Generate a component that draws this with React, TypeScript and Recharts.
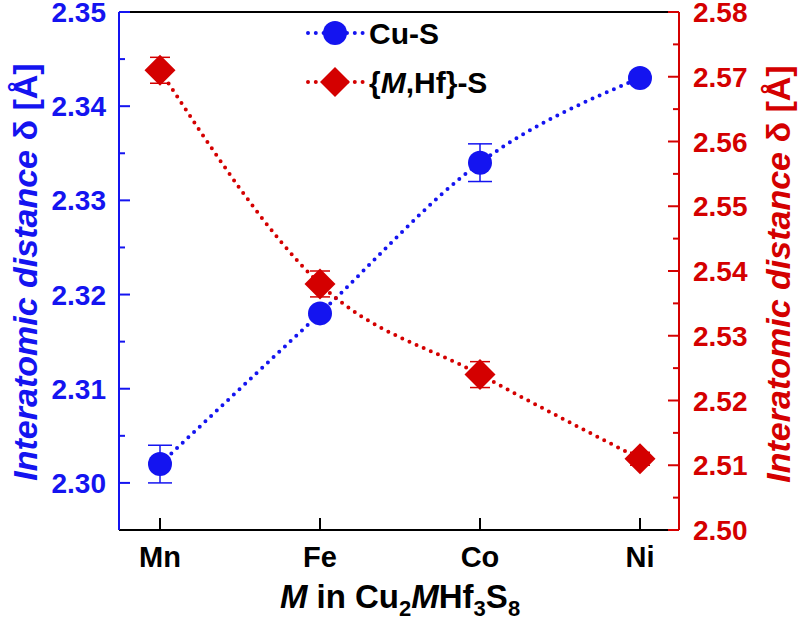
import React from 'react'
import { LineChart, Line, XAxis, YAxis, ErrorBar, ReferenceLine } from 'recharts'

const BLUE = '#1414f0'
const RED = '#d40000'
const FONT = '"Liberation Sans", Arial, Helvetica, sans-serif'

const metals = ['Mn', 'Fe', 'Co', 'Ni']
const cuS = [2.302, 2.318, 2.334, 2.343]
const cuSErr = [0.002, 0, 0.002, 0]
const mhfS = [2.571, 2.538, 2.524, 2.511]
const mhfSErr = [0.002, 0.002, 0.002, 0.001]

const leftTicks = [2.3, 2.305, 2.31, 2.315, 2.32, 2.325, 2.33, 2.335, 2.34, 2.345, 2.35]
const rightTicks = [2.5, 2.505, 2.51, 2.515, 2.52, 2.525, 2.53, 2.535, 2.54, 2.545, 2.55, 2.555, 2.56, 2.565, 2.57, 2.575, 2.58]

const data = metals.map((m, i) => ({
  m,
  cu: cuS[i],
  cuErr: cuSErr[i],
  mhf: mhfS[i],
  mhfErr: mhfSErr[i],
}))

const isMajor = (v: number) => Math.abs(v * 100 - Math.round(v * 100)) < 1e-6

const LeftTick = ({ x, y, payload }: any) => {
  const major = isMajor(payload.value)
  return (
    <g>
      <line x1={x} x2={x + (major ? 11 : 6)} y1={y} y2={y} stroke={BLUE} strokeWidth={2} />
      {major && (
        <text x={x - 13} y={y} dy="0.36em" textAnchor="end" fill={BLUE}
          fontSize={28} fontWeight="bold" fontFamily={FONT}>
          {payload.value.toFixed(2)}
        </text>
      )}
    </g>
  )
}

const RightTick = ({ x, y, payload }: any) => {
  const major = isMajor(payload.value)
  return (
    <g>
      <line x1={x} x2={x - (major ? 11 : 6)} y1={y} y2={y} stroke={RED} strokeWidth={2} />
      {major && (
        <text x={x + 14} y={y} dy="0.36em" textAnchor="start" fill={RED}
          fontSize={28} fontWeight="bold" fontFamily={FONT}>
          {payload.value.toFixed(2)}
        </text>
      )}
    </g>
  )
}

const BottomTick = ({ x, y, payload }: any) => (
  <g>
    <line x1={x} x2={x} y1={y} y2={y - 12} stroke="#000" strokeWidth={2} />
    <text x={x} y={y + 27} dy="0.36em" textAnchor="middle" fill="#000"
      fontSize={29} fontWeight="bold" fontFamily={FONT}>
      {payload.value}
    </text>
  </g>
)

const Diamond = ({ cx, cy }: any) => {
  if (cx == null || cy == null) return null
  const h = 15.5
  return <polygon points={`${cx},${cy - h} ${cx + h},${cy} ${cx},${cy + h} ${cx - h},${cy}`} fill={RED} />
}

export default function App() {
  return (
    <div style={{ position: 'absolute', left: 0, top: 0, width: 800, height: 626, background: '#fff' }}>
      <LineChart width={800} height={626} data={data} margin={{ top: 12, right: 0, left: 0, bottom: 0 }}>
        <XAxis dataKey="m" height={96} padding={{ left: 41, right: 39 }}
          axisLine={{ stroke: '#000', strokeWidth: 2 }} tickLine={false} tickSize={0} tickMargin={0}
          tick={<BottomTick />} />
        <YAxis yAxisId="left" orientation="left" width={119} domain={[2.295, 2.35]} ticks={leftTicks}
          allowDataOverflow axisLine={{ stroke: BLUE, strokeWidth: 2 }} tickLine={false} tickSize={0} tickMargin={0}
          tick={<LeftTick />} interval={0} />
        <YAxis yAxisId="right" orientation="right" width={121} domain={[2.5, 2.58]} ticks={rightTicks}
          allowDataOverflow axisLine={{ stroke: RED, strokeWidth: 2 }} tickLine={false} tickSize={0} tickMargin={0}
          tick={<RightTick />} interval={0} />
        <ReferenceLine yAxisId="left" y={2.35} stroke="#000" strokeWidth={2} />
        <Line yAxisId="left" type="monotone" dataKey="cu" name="Cu-S" stroke={BLUE} strokeWidth={4}
          strokeDasharray="0 7.8" strokeLinecap="round" dot={{ r: 12, fill: BLUE, stroke: BLUE, strokeWidth: 0 }}
          isAnimationActive={false}>
          <ErrorBar dataKey="cuErr" width={12} stroke={BLUE} strokeWidth={1.5} direction="y" />
        </Line>
        <Line yAxisId="right" type="monotone" dataKey="mhf" name="{M,Hf}-S" stroke={RED} strokeWidth={4}
          strokeDasharray="0 7.8" strokeLinecap="round" dot={<Diamond />}
          isAnimationActive={false}>
          <ErrorBar dataKey="mhfErr" width={10} stroke={RED} strokeWidth={1.5} direction="y" />
        </Line>
      </LineChart>
      <svg width={800} height={626} style={{ position: 'absolute', left: 0, top: 0, pointerEvents: 'none' }}
        fontFamily={FONT} fontWeight="bold">
        {/* legend */}
        <line x1={308} x2={363} y1={33} y2={33} stroke={BLUE} strokeWidth={4} strokeDasharray="0 7.8" strokeLinecap="round" />
        <circle cx={335} cy={33} r={12} fill={BLUE} />
        <text x={369} y={33} dy="0.36em" fontSize={30} fill="#000">Cu-S</text>
        <line x1={308} x2={363} y1={82} y2={82} stroke={RED} strokeWidth={4} strokeDasharray="0 7.8" strokeLinecap="round" />
        <polygon points="335,67 350,82 335,97 320,82" fill={RED} />
        <text x={369} y={82} dy="0.36em" fontSize={30} fill="#000">
          {'{'}<tspan fontStyle="italic">M</tspan>,Hf{'}'}-S
        </text>
        {/* axis titles */}
        <text transform="translate(25,272) rotate(-90)" textAnchor="middle" dy="0.36em" fontSize={34} fill={BLUE}>
          <tspan fontStyle="italic">Interatomic distance </tspan>δ [Å]
        </text>
        <text transform="translate(778,274) rotate(-90)" textAnchor="middle" dy="0.36em" fontSize={34} fill={RED}>
          <tspan fontStyle="italic">Interatomic distance </tspan>δ [Å]
        </text>
        <text x={400} y={608} textAnchor="middle" fontSize={33} fill="#000">
          <tspan fontStyle="italic">M</tspan> in Cu<tspan fontSize={22} dy={8}>2</tspan>
          <tspan fontStyle="italic" dy={-8}>M</tspan>Hf<tspan fontSize={22} dy={8}>3</tspan>
          <tspan dy={-8}>S</tspan><tspan fontSize={22} dy={8}>8</tspan>
        </text>
      </svg>
    </div>
  )
}
